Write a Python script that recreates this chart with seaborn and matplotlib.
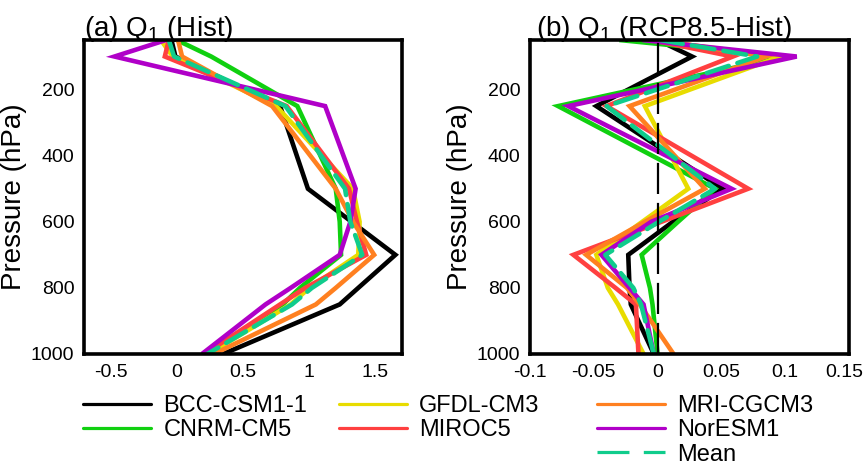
import numpy as np
import pandas as pd
import matplotlib
matplotlib.use("Agg")
import matplotlib.pyplot as plt
import matplotlib.transforms as mtransforms
import seaborn as sns
from matplotlib.lines import Line2D

# ---------------- data ----------------
levels = [50, 100, 250, 500, 600, 700, 800, 850, 1000]
models = ["BCC-CSM1-1", "CNRM-CM5", "GFDL-CM3", "MIROC5", "MRI-CGCM3", "NorESM1", "Mean"]

# (a) Q1 Hist
hist_bcc   = [-0.04, -0.01, 0.78, 0.99, 1.32, 1.65, 1.37, 1.23, 0.35]
hist_cnrm  = [0.00, 0.26, 0.91, 1.20, 1.23, 1.24, 0.93, 0.80, 0.22]
hist_gfdl  = [-0.12, -0.03, 0.75, 1.33, 1.38, 1.37, 1.00, 0.86, 0.24]
hist_miroc = [-0.06, -0.09, 0.83, 1.30, 1.36, 1.43, 0.97, 0.78, 0.21]
hist_mri   = [0.01, 0.04, 0.72, 1.20, 1.33, 1.49, 1.20, 1.05, 0.28]
hist_nor   = [-0.08, -0.47, 1.12, 1.35, 1.31, 1.23, 0.86, 0.67, 0.19]
hist_mean  = [-0.06, -0.02, 0.82, 1.27, 1.31, 1.40, 1.02, 0.87, 0.23]

# (b) Q1 RCP8.5 - Hist
diff_bcc   = [0.000, 0.027, -0.048, 0.051, 0.012, -0.023, -0.022, -0.021, -0.003]
diff_cnrm  = [-0.030, 0.100, -0.078, 0.045, 0.016, -0.0125, -0.006, -0.004, 0.000]
diff_gfdl  = [-0.005, 0.096, -0.010, 0.024, -0.012, -0.048, -0.039, -0.031, -0.011]
diff_miroc = [-0.005, 0.059, -0.040, 0.071, 0.003, -0.066, -0.033, -0.017, -0.015]
diff_mri   = [0.000, 0.085, -0.022, 0.037, -0.010, -0.056, -0.024, -0.014, 0.0125]
diff_nor   = [-0.012, 0.109, -0.070, 0.058, -0.005, -0.044, -0.022, -0.011, -0.003]
diff_mean  = [0.002, 0.078, -0.040, 0.045, 0.001, -0.041, -0.019, -0.013, -0.003]

hist_series = [hist_bcc, hist_cnrm, hist_gfdl, hist_miroc, hist_mri, hist_nor, hist_mean]
diff_series = [diff_bcc, diff_cnrm, diff_gfdl, diff_miroc, diff_mri, diff_nor, diff_mean]

left_xticks = [-0.5, 0, 0.5, 1, 1.5]
left_xticklabels = ["-0.5", "0", "0.5", "1", "1.5"]
right_xticks = [-0.1, -0.05, 0, 0.05, 0.1, 0.15]
right_xticklabels = ["-0.1", "-0.05", "0", "0.05", "0.1", "0.15"]
yticks = [200, 400, 600, 800, 1000]
yticklabels = ["200", "400", "600", "800", "1000"]

colors = {
    "BCC-CSM1-1": "#000000",
    "CNRM-CM5": "#10D010",
    "GFDL-CM3": "#E8DC00",
    "MIROC5": "#FF4040",
    "MRI-CGCM3": "#FF8020",
    "NorESM1": "#B000C8",
    "Mean": "#10CC8C",
}

def long_df(series):
    rows = []
    for m, vals in zip(models, series):
        for lev, v in zip(levels, vals):
            rows.append({"model": m, "level": lev, "value": v})
    return pd.DataFrame(rows)

df_hist = long_df(hist_series)
df_diff = long_df(diff_series)

# ---------------- style ----------------
sns.set_style("white")
plt.rcParams["font.family"] = ["Liberation Sans", "DejaVu Sans"]
plt.rcParams["mathtext.default"] = "regular"
plt.rcParams["axes.unicode_minus"] = False
plt.rcParams["text.color"] = "black"
plt.rcParams["axes.labelcolor"] = "black"
plt.rcParams["xtick.color"] = "black"
plt.rcParams["ytick.color"] = "black"

W, H = 863, 465
fig = plt.figure(figsize=(W / 100, H / 100), dpi=100)
ax1 = fig.add_axes([84 / W, 1 - 354 / H, 318 / W, 314 / H])
ax2 = fig.add_axes([530 / W, 1 - 354 / H, 319 / W, 314 / H])

dash_map = {m: "" for m in models}
dash_map["Mean"] = (5, 2)

for ax, df in ((ax1, df_hist), (ax2, df_diff)):
    sns.lineplot(data=df, x="value", y="level", hue="model", style="model",
                 hue_order=models, style_order=models, palette=colors,
                 dashes=dash_map, sort=False, estimator=None, orient="y",
                 linewidth=3.3, legend=False, ax=ax)
    for ln in ax.get_lines():
        ln.set_solid_capstyle("butt")
        ln.set_dash_capstyle("round")
        ln.set_solid_joinstyle("miter")
    ax.set_ylim(1000, 50)
    ax.set_yticks(yticks)
    ax.set_yticklabels(yticklabels)
    ax.set_ylabel("Pressure (hPa)", fontsize=20, labelpad=3, color="black")
    ax.set_xlabel("")
    for sp in ax.spines.values():
        sp.set_linewidth(2.6)
        sp.set_color("black")
    ax.tick_params(axis="both", direction="out", length=4, width=1.5,
                   labelsize=14, pad=3, colors="black", labelcolor="black")

ax1.set_xlim(-0.7, 1.7)
ax1.set_xticks(left_xticks)
ax1.set_xticklabels(left_xticklabels)
ax2.set_xlim(-0.1, 0.15)
ax2.set_xticks(right_xticks)
ax2.set_xticklabels(right_xticklabels)
ax2.axvline(0, color="black", lw=1.6, dashes=(14, 4), zorder=10)

# keep the last right-hand tick label inside the figure
last = ax2.get_xticklabels()[-1]
last.set_transform(last.get_transform() +
                   mtransforms.ScaledTranslation(-5 / 100, 0, fig.dpi_scale_trans))

ax1.set_title(r"(a) $\mathregular{Q_1}$ (Hist)", loc="left", fontsize=20, pad=3, color="black")
ax2.set_title(r"(b) $\mathregular{Q_1}$ (RCP8.5-Hist)", loc="left", fontsize=20, pad=3,
              x=0.02, color="black")

# ---------------- legend ----------------
def handle(m):
    if m == "Mean":
        return Line2D([], [], color=colors[m], lw=2.3, dashes=(10, 4.5))
    return Line2D([], [], color=colors[m], lw=2.3)

groups = [(83, ["BCC-CSM1-1", "CNRM-CM5"]),
          (339, ["GFDL-CM3", "MIROC5"]),
          (597, ["MRI-CGCM3", "NorESM1", "Mean"])]
for xpx, ms in groups:
    leg = fig.legend([handle(m) for m in ms], ms, loc="upper left",
                     bbox_to_anchor=(xpx / W, 1 - 395 / H), frameon=False,
                     fontsize=17, handlelength=2.9, handletextpad=0.5,
                     labelspacing=0.1, borderpad=0, borderaxespad=0,
                     labelcolor="black")

fig.savefig("out.png", dpi=100)
